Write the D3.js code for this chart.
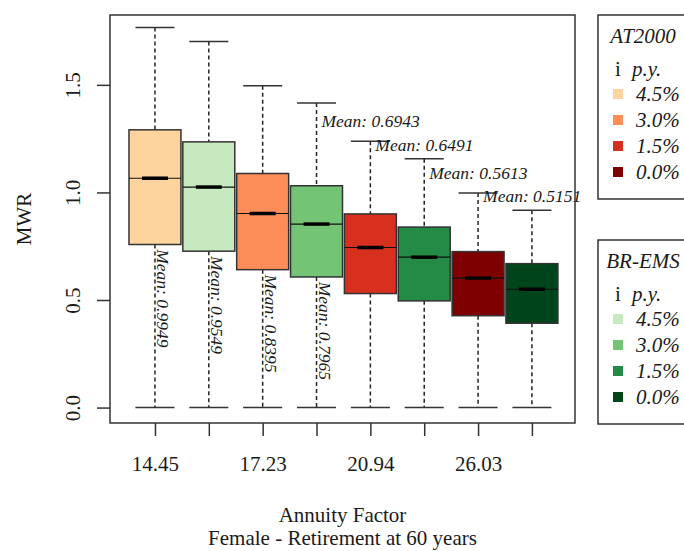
<!DOCTYPE html>
<html>
<head>
<meta charset="utf-8">
<script src="https://cdn.jsdelivr.net/npm/d3@7"></script>
<style>
  body { margin: 0; background: #fff; }
  svg { display: block; }
  text { font-family: "Liberation Serif", "Times New Roman", serif; fill: #1a1a1a; }
</style>
</head>
<body>
<div id="chart"></div>
<script>
// box statistics, one entry per box (left to right)
const tables = ['AT2000', 'BR-EMS', 'AT2000', 'BR-EMS', 'AT2000', 'BR-EMS', 'AT2000', 'BR-EMS'];
const rates = ['4.5%', '4.5%', '3.0%', '3.0%', '1.5%', '1.5%', '0.0%', '0.0%'];
const whiskerHi = [1.767, 1.702, 1.496, 1.416, 1.238, 1.157, 0.997, 0.917];
const q3 = [1.291, 1.235, 1.088, 1.031, 0.900, 0.839, 0.725, 0.669];
const medians = [1.066, 1.025, 0.902, 0.853, 0.744, 0.699, 0.602, 0.550];
const q1 = [0.758, 0.727, 0.641, 0.607, 0.530, 0.496, 0.427, 0.392];
const whiskerLo = [0, 0, 0, 0, 0, 0, 0, 0];
const means = ['0.9949', '0.9549', '0.8395', '0.7965', '0.6943', '0.6491', '0.5613', '0.5151'];

const xTickLabels = ['14.45', '', '17.23', '', '20.94', '', '26.03', ''];
const yTicks = [0, 0.5, 1.0, 1.5];

const legendRates = ['4.5%', '3.0%', '1.5%', '0.0%'];
const orangeColors = ['#fdd49e', '#fc8d59', '#d7301f', '#7f0000'];
const greenColors = ['#c7e9c0', '#74c476', '#238b45', '#00441b'];

const width = 684, height = 551;
const plot = { left: 110, right: 575, top: 15, bottom: 423 };

const svg = d3.select('#chart')
  .append('svg')
  .attr('width', width)
  .attr('height', height);

const x = d3.scaleLinear().domain([0.165, 8.8]).range([plot.left, plot.right]);
const y = d3.scaleLinear().domain([-0.0717, 1.8247]).range([plot.bottom, plot.top]);

const color = d3.scaleOrdinal()
  .domain(tables.map((t, i) => t + rates[i]))
  .range(tables.map((t, i) => (t === 'AT2000' ? orangeColors : greenColors)[legendRates.indexOf(rates[i])]));

const boxes = tables.map((t, i) => ({
  pos: i + 1, key: t + rates[i],
  hi: whiskerHi[i], q3: q3[i], med: medians[i], q1: q1[i], lo: whiskerLo[i], mean: means[i]
}));

const boxW = 0.965, capW = 0.725;

// whiskers (dashed)
const g = svg.append('g');
g.selectAll('.whisker-up')
  .data(boxes).enter().append('line')
  .attr('x1', d => x(d.pos)).attr('x2', d => x(d.pos))
  .attr('y1', d => y(d.hi)).attr('y2', d => y(d.q3))
  .attr('stroke', '#222').attr('stroke-width', 1.5).attr('stroke-dasharray', '4,3');
g.selectAll('.whisker-down')
  .data(boxes).enter().append('line')
  .attr('x1', d => x(d.pos)).attr('x2', d => x(d.pos))
  .attr('y1', d => y(d.q1)).attr('y2', d => y(d.lo))
  .attr('stroke', '#222').attr('stroke-width', 1.5).attr('stroke-dasharray', '4,3');

// staples
['hi', 'lo'].forEach(k => {
  g.selectAll('.cap-' + k)
    .data(boxes).enter().append('line')
    .attr('x1', d => x(d.pos - capW / 2)).attr('x2', d => x(d.pos + capW / 2))
    .attr('y1', d => y(d[k])).attr('y2', d => y(d[k]))
    .attr('stroke', '#333').attr('stroke-width', 1.5);
});

// boxes
g.selectAll('.box')
  .data(boxes).enter().append('rect')
  .attr('x', d => x(d.pos - boxW / 2))
  .attr('width', d => x(d.pos + boxW / 2) - x(d.pos - boxW / 2))
  .attr('y', d => y(d.q3))
  .attr('height', d => y(d.q1) - y(d.q3))
  .attr('fill', d => color(d.key))
  .attr('stroke', '#333').attr('stroke-width', 1.5);

// median: thin full line + thick centre segment
g.selectAll('.med-thin')
  .data(boxes).enter().append('line')
  .attr('x1', d => x(d.pos - boxW / 2)).attr('x2', d => x(d.pos + boxW / 2))
  .attr('y1', d => y(d.med)).attr('y2', d => y(d.med))
  .attr('stroke', '#111').attr('stroke-width', 1.2);
g.selectAll('.med-thick')
  .data(boxes).enter().append('line')
  .attr('x1', d => x(d.pos - boxW / 4)).attr('x2', d => x(d.pos + boxW / 4))
  .attr('y1', d => y(d.med)).attr('y2', d => y(d.med))
  .attr('stroke', '#000').attr('stroke-width', 3.5);

// mean labels: first four vertical below the box, last four horizontal above the whisker
g.selectAll('.mean-v')
  .data(boxes.slice(0, 4)).enter().append('text')
  .attr('transform', d => `translate(${x(d.pos) + 2},${y(d.q1 - 0.022)}) rotate(90)`)
  .attr('font-size', 17.5).attr('font-style', 'italic')
  .text(d => 'Mean: ' + d.mean);
g.selectAll('.mean-h')
  .data(boxes.slice(4)).enter().append('text')
  .attr('x', d => x(d.pos - 1) + 5)
  .attr('y', (d, i) => y(d.hi + (i % 2 ? 0.037 : 0.064)))
  .attr('font-size', 17.5).attr('font-style', 'italic')
  .text(d => 'Mean: ' + d.mean);

// frame
svg.append('rect')
  .attr('x', plot.left).attr('y', plot.top)
  .attr('width', plot.right - plot.left).attr('height', plot.bottom - plot.top)
  .attr('fill', 'none').attr('stroke', '#333').attr('stroke-width', 1.5);

// y axis
const yAxis = svg.append('g')
  .attr('transform', `translate(${plot.left},0)`)
  .call(d3.axisLeft(y).tickValues(yTicks).tickFormat(d3.format('.1f')).tickSize(13).tickSizeOuter(0));
yAxis.select('.domain').remove();
yAxis.selectAll('.tick line').attr('stroke', '#333').attr('stroke-width', 1.5);
yAxis.selectAll('.tick text')
  .attr('x', null).attr('dy', null)
  .attr('transform', 'translate(-30,0) rotate(-90)')
  .attr('text-anchor', 'middle')
  .attr('font-size', 21)
  .attr('font-family', '"Liberation Serif", serif')
  .attr('fill', '#1a1a1a');

// x axis
const xAxis = svg.append('g')
  .attr('transform', `translate(0,${plot.bottom})`)
  .call(d3.axisBottom(x).tickValues(d3.range(1, 9)).tickFormat((d, i) => xTickLabels[i]).tickSize(13).tickSizeOuter(0));
xAxis.select('.domain').remove();
xAxis.selectAll('.tick line').attr('stroke', '#333').attr('stroke-width', 1.5);
xAxis.selectAll('.tick text')
  .attr('y', 48).attr('dy', null)
  .attr('font-size', 21)
  .attr('font-family', '"Liberation Serif", serif')
  .attr('fill', '#1a1a1a');

// axis titles
svg.append('text')
  .attr('transform', `translate(31,${(plot.top + plot.bottom) / 2}) rotate(-90)`)
  .attr('text-anchor', 'middle').attr('font-size', 21)
  .text('MWR');
svg.append('text')
  .attr('x', (plot.left + plot.right) / 2).attr('y', 522)
  .attr('text-anchor', 'middle').attr('font-size', 21)
  .text('Annuity Factor');
svg.append('text')
  .attr('x', (plot.left + plot.right) / 2).attr('y', 545)
  .attr('text-anchor', 'middle').attr('font-size', 21)
  .text('Female - Retirement at 60 years');

// legends
function legend(top, title, colors) {
  const lg = svg.append('g').attr('transform', `translate(598,${top})`);
  lg.append('rect')
    .attr('width', 110).attr('height', 184)
    .attr('fill', '#fff').attr('stroke', '#333').attr('stroke-width', 1.5);
  lg.append('text')
    .attr('x', 45).attr('y', 28)
    .attr('text-anchor', 'middle')
    .attr('font-size', 21).attr('font-style', 'italic')
    .text(title);
  const hdr = lg.append('text').attr('x', 17).attr('y', 61).attr('font-size', 21);
  hdr.append('tspan').text('i');
  hdr.append('tspan').attr('x', 34).attr('font-style', 'italic').text('p.y.');
  const rows = lg.selectAll('.row')
    .data(legendRates).enter().append('g')
    .attr('transform', (d, i) => `translate(0,${79 + i * 26})`);
  rows.append('rect')
    .attr('x', 15).attr('y', -5).attr('width', 10).attr('height', 10)
    .attr('fill', (d, i) => colors[i]);
  rows.append('text')
    .attr('x', 38).attr('y', 7)
    .attr('font-size', 21).attr('font-style', 'italic')
    .text(d => d);
}
legend(15, 'AT2000', orangeColors);
legend(240, 'BR-EMS', greenColors);
</script>
</body>
</html>
